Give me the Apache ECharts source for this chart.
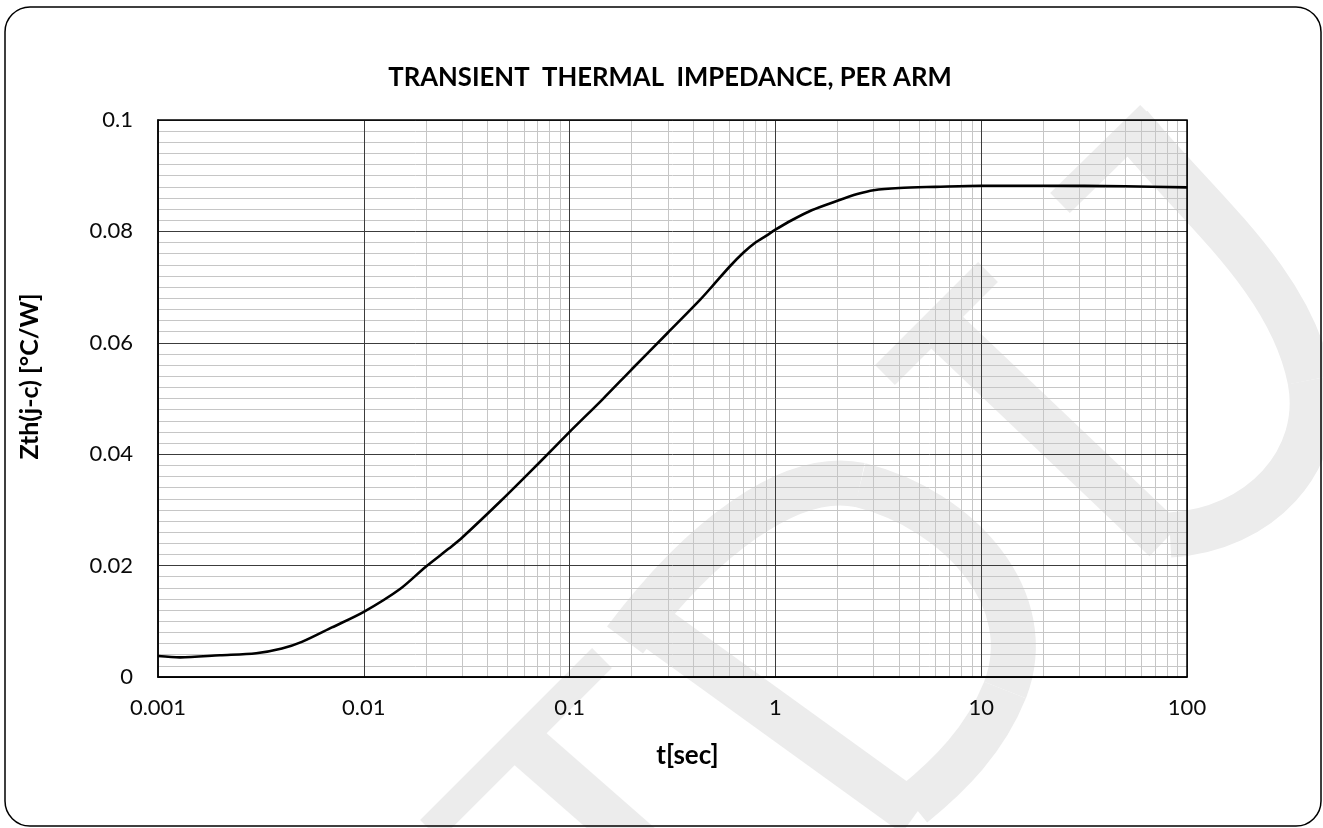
<!DOCTYPE html>
<html>
<head>
<meta charset="utf-8">
<title>Transient Thermal Impedance</title>
<script src="https://cdn.jsdelivr.net/npm/echarts@6/dist/echarts.min.js"></script>
<style>
    html, body { margin: 0; padding: 0; background: #fff; }
    #zthChart { width: 1323px; height: 828px; }
</style>
</head>
<body>
<div id="zthChart"></div>
<script>
// curve, t in seconds / Zth in °C/W
const TIME_SEC = [0.001, 0.00128, 0.002, 0.003, 0.004, 0.005, 0.007, 0.01, 0.015, 0.02,
    0.026, 0.03, 0.046, 0.07, 0.1, 0.145, 0.2, 0.3, 0.43, 0.5,
    0.6, 0.7, 0.8, 0.9, 1, 1.2, 1.5, 2, 2.5, 3,
    4, 6, 10, 20, 50, 100];
const ZTH_JC = [0.00377, 0.00353, 0.0039, 0.00425, 0.0051, 0.0063, 0.0089, 0.0117, 0.0158, 0.0198,
    0.0231, 0.0250, 0.0315, 0.0382, 0.0440, 0.0499, 0.0552, 0.0618, 0.0677, 0.0704,
    0.0737, 0.0762, 0.0780, 0.0792, 0.0803, 0.0820, 0.0838, 0.0855, 0.0867, 0.0874,
    0.0878, 0.0880, 0.0882, 0.0882, 0.0881, 0.0879];

const X_TICK_LABELS = ['0.001', '0.01', '0.1', '1', '10', '100'];
const X_MINOR_LINES = [
    0.002, 0.003, 0.004, 0.005, 0.006, 0.007, 0.008, 0.009,
    0.02, 0.03, 0.04, 0.05, 0.06, 0.07, 0.08, 0.09,
    0.2, 0.3, 0.4, 0.5, 0.6, 0.7, 0.8, 0.9,
    2, 3, 4, 5, 6, 7, 8, 9,
    20, 30, 40, 50, 60, 70, 80, 90
];

const CHART_TITLE = 'TRANSIENT  THERMAL  IMPEDANCE, PER ARM';
const X_NAME = 't[sec]';
const Y_NAME = 'Zth(j-c) [°C/W]';

window.onload = () => {
    new ZthChartVm().main();
};

class ZthChartVm {
    chart;

    main() {
        this.chart = echarts.init(document.getElementById('zthChart'));
        this.chart.setOption(this.buildOption());
    }

    // faint logo behind the plot, just light strokes
    watermark() {
        let wm = '#ececec';
        let line = (x1, y1, x2, y2, w) => ({
            type: 'line', z: -10, silent: true,
            shape: { x1, y1, x2, y2 },
            style: { stroke: wm, lineWidth: w }
        });
        let curve = (x1, y1, cpx1, cpy1, cpx2, cpy2, x2, y2, w) => ({
            type: 'bezierCurve', z: -10, silent: true,
            shape: { x1, y1, cpx1, cpy1, cpx2, cpy2, x2, y2 },
            style: { fill: null, stroke: wm, lineWidth: w }
        });

        return [
            curve(1130, 125, 1200, 210, 1290, 280, 1310, 380, 45),
            curve(1310, 380, 1325, 460, 1260, 530, 1170, 535, 45),
            line(1060, 203, 1150, 115, 28),
            line(885, 375, 988, 272, 28),
            line(937, 323, 1165, 540, 45),
            line(430, 830, 602, 658, 28),
            line(520, 740, 640, 845, 45),
            line(645, 620, 915, 815, 45),
            curve(625, 640, 700, 540, 790, 470, 860, 485, 45),
            curve(860, 485, 960, 510, 1040, 600, 1005, 690, 45),
            curve(1005, 690, 985, 740, 950, 775, 913, 805, 45)
        ];
    }

    buildOption() {
        let font = 'Lato, "Open Sans", sans-serif';
        let minorColor = '#c6c6c6';
        let majorColor = '#3c3c3c';

        return {
            animation: false,
            backgroundColor: '#fff',
            title: {
                text: CHART_TITLE,
                left: 665,
                top: 60,
                textAlign: 'center',
                textStyle: { fontFamily: font, fontWeight: 'bold', fontSize: 25.7, color: '#000' }
            },
            grid: {
                left: 158, right: 136, top: 120, bottom: 151,
                show: true, borderColor: '#000', borderWidth: 1.5, z: 5
            },
            xAxis: {
                type: 'log',
                logBase: 10,
                min: 0.001,
                max: 100,
                splitNumber: 5,
                z: 4,
                name: X_NAME,
                nameLocation: 'middle',
                nameGap: 66,
                nameTextStyle: {
                    fontFamily: font, fontWeight: 'bold', fontSize: 26, color: '#000',
                    padding: [0, 0, 0, 30]
                },
                axisLine: { show: true, lineStyle: { color: '#000', width: 1.5 } },
                axisTick: { show: false },
                axisLabel: {
                    fontFamily: font, fontSize: 22, color: '#0a0a0a', margin: 20,
                    formatter: (v, i) => X_TICK_LABELS[i]
                },
                splitLine: { show: true, lineStyle: { color: majorColor, width: 1 } }
            },
            yAxis: {
                type: 'value',
                min: 0,
                max: 0.1,
                interval: 0.02,
                z: 3,
                name: Y_NAME,
                nameLocation: 'middle',
                nameGap: 116,
                nameTextStyle: {
                    fontFamily: font, fontWeight: 'bold', fontSize: 25, color: '#000',
                    padding: [0, 0, 0, 44]
                },
                axisLine: { show: true, lineStyle: { color: '#000', width: 1.5 } },
                axisTick: { show: false },
                axisLabel: { fontFamily: font, fontSize: 22, color: '#0a0a0a', margin: 25 },
                splitLine: { show: true, lineStyle: { color: majorColor, width: 1 } },
                minorTick: { show: false, splitNumber: 10 },
                minorSplitLine: { show: true, lineStyle: { color: minorColor, width: 1 } }
            },
            graphic: this.watermark().concat([
                // rounded frame around the whole picture
                { type: 'rect', z: 50, silent: true,
                  shape: { x: 5, y: 7, width: 1316, height: 819, r: 25 },
                  style: { fill: null, stroke: '#000', lineWidth: 1.5 } }
            ]),
            series: [
                {
                    name: 'minor grid',
                    type: 'line',
                    data: [],
                    silent: true,
                    markLine: {
                        silent: true,
                        z: 1,
                        symbol: ['none', 'none'],
                        animation: false,
                        label: { show: false },
                        emphasis: { disabled: true },
                        lineStyle: { color: minorColor, width: 1, type: 'solid' },
                        data: X_MINOR_LINES.map(v => ({ xAxis: v }))
                    }
                },
                {
                    name: 'Zth',
                    type: 'line',
                    z: 10,
                    smooth: 0.3,
                    symbol: 'none',
                    lineStyle: { color: '#000', width: 2.6 },
                    data: TIME_SEC.map((t, i) => [t, ZTH_JC[i]])
                }
            ]
        };
    }
}
</script>
</body>
</html>
